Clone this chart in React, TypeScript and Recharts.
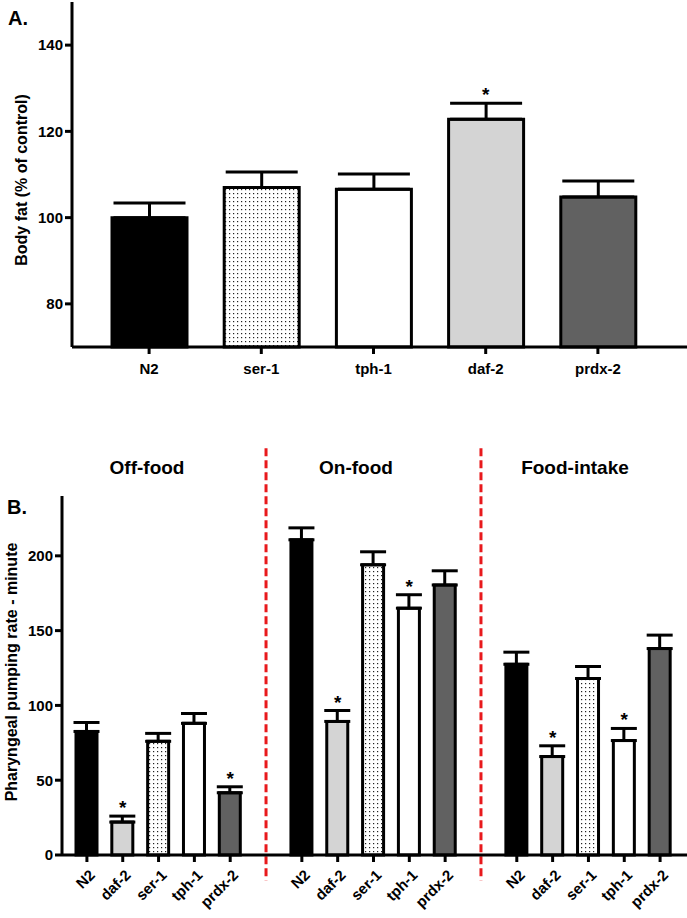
import {
  ComposedChart,
  Bar,
  Cell,
  ErrorBar,
  Scatter,
  XAxis,
  YAxis,
  ReferenceLine,
} from "recharts";

// panel A: body fat (% of control)
const strainsA = ["N2", "ser-1", "tph-1", "daf-2", "prdx-2"];
const bodyFat = [100, 107.0, 106.6, 122.8, 104.8];
const bodyFatErr = [3.4, 3.6, 3.5, 3.7, 3.7];
const sigA = [false, false, false, true, false];

// panel B: pharyngeal pumping rate per minute
const strainsB = ["N2", "daf-2", "ser-1", "tph-1", "prdx-2"];
const offFood = [82.6, 22, 76, 88, 41.6];
const offFoodErr = [6, 4, 5.3, 6.6, 4];
const offFoodSig = [false, true, false, false, true];
const onFood = [210.7, 89.3, 194, 165, 180.5];
const onFoodErr = [8, 7.3, 8.7, 9, 9.5];
const onFoodSig = [false, true, false, true, false];
const foodIntake = [127.5, 65.8, 118, 76.5, 138];
const foodIntakeErr = [8.1, 7.2, 8, 8.1, 9];
const foodIntakeSig = [false, true, false, true, false];

const FILLS: Record<string, string> = {
  N2: "#000000",
  "ser-1": "dots",
  "tph-1": "#ffffff",
  "daf-2": "#d4d4d4",
  "prdx-2": "#616161",
};
const fillOf = (name: string, pid: string) =>
  FILLS[name] === "dots" ? `url(#${pid})` : FILLS[name];

const dataA = strainsA.map((name, i) => ({
  name,
  value: bodyFat[i],
  err: [0, bodyFatErr[i]],
  star: sigA[i] ? bodyFat[i] + bodyFatErr[i] : null,
}));

const groupsB = [
  { key: "off", vals: offFood, errs: offFoodErr, sig: offFoodSig },
  { key: "on", vals: onFood, errs: onFoodErr, sig: onFoodSig },
  { key: "intake", vals: foodIntake, errs: foodIntakeErr, sig: foodIntakeSig },
];

const dataB: any[] = [];
groupsB.forEach((g, gi) => {
  if (gi > 0) dataB.push({ id: `gap${gi}`, name: "", value: null, err: null, star: null });
  strainsB.forEach((name, i) => {
    dataB.push({
      id: `${g.key}-${name}`,
      name,
      value: g.vals[i],
      err: [0, g.errs[i]],
      star: g.sig[i] ? g.vals[i] + g.errs[i] : null,
    });
  });
});
const tickIdsB = dataB.filter((d) => d.name !== "").map((d) => d.id);
const nameById: Record<string, string> = Object.fromEntries(
  dataB.map((d) => [d.id, d.name])
);

const axisStyle = { stroke: "#000", strokeWidth: 3 };
const tickFont = { fill: "#000", fontSize: 15, fontWeight: "bold" as const };
const RED = "#e8191c";

const Star = (props: any) => {
  const { cx, cy, payload } = props;
  if (payload == null || payload.star == null || !isFinite(cy)) return <g />;
  return (
    <text x={cx} y={cy - 2} textAnchor="middle" fontSize={19} fontWeight="bold" fill="#000">
      *
    </text>
  );
};

const RotTick = (props: any) => {
  const { x, y, payload } = props;
  return (
    <text
      x={x + 9}
      y={y + 14}
      transform={`rotate(-45 ${x + 9} ${y + 14})`}
      textAnchor="end"
      fontSize={15}
      fontWeight="bold"
      fill="#000"
    >
      {nameById[payload.value]}
    </text>
  );
};

function DotPattern({ id }: { id: string }) {
  return (
    <defs>
      <pattern id={id} width="4" height="4" patternUnits="userSpaceOnUse">
        <rect width="4" height="4" fill="#fff" />
        <rect x="1" y="1" width="1.2" height="1.2" fill="#222" />
      </pattern>
    </defs>
  );
}

function BodyFatChart() {
  return (
    <ComposedChart
      width={687}
      height={400}
      data={dataA}
      margin={{ top: 2, right: 0, left: 12, bottom: 23 }}
    >
      <DotPattern id="dotsA" />
      <XAxis
        dataKey="name"
        interval={0}
        padding={{ left: 21, right: 33 }}
        axisLine={axisStyle}
        tickLine={axisStyle}
        tickSize={7}
        tickMargin={9}
        tick={tickFont}
        height={30}
      />
      <YAxis
        domain={[70, 150]}
        ticks={[80, 100, 120, 140]}
        width={60}
        axisLine={axisStyle}
        tickLine={axisStyle}
        tickSize={7}
        tickMargin={2}
        tick={tickFont}
      />
      <Bar dataKey="value" barSize={75} stroke="#000" strokeWidth={3} isAnimationActive={false}>
        {dataA.map((d, i) => (
          <Cell key={i} fill={fillOf(d.name, "dotsA")} />
        ))}
        <ErrorBar dataKey="err" width={36} stroke="#000" strokeWidth={3} direction="y" />
      </Bar>
      <Scatter dataKey="star" shape={Star} isAnimationActive={false} legendType="none" />
    </ComposedChart>
  );
}

function PumpingChart() {
  return (
    <ComposedChart
      width={687}
      height={488}
      data={dataB}
      margin={{ top: 66, right: 0, left: 12, bottom: 13 }}
    >
      <DotPattern id="dotsB" />
      <XAxis
        dataKey="id"
        interval={0}
        ticks={tickIdsB}
        padding={{ left: 7, right: 9 }}
        axisLine={axisStyle}
        tickLine={axisStyle}
        tickSize={7}
        tickMargin={0}
        tick={<RotTick />}
        height={50}
      />
      <YAxis
        domain={[0, 240]}
        ticks={[0, 50, 100, 150, 200]}
        width={50}
        axisLine={axisStyle}
        tickLine={axisStyle}
        tickSize={7}
        tickMargin={2}
        tick={tickFont}
      />
      {["gap1", "gap2"].map((g) => (
        <ReferenceLine
          key={g}
          segment={[
            { x: g, y: 272 },
            { x: g, y: -17 },
          ]}
          ifOverflow="visible"
          stroke={RED}
          strokeWidth={3}
          strokeDasharray="8 4"
        />
      ))}
      <Bar dataKey="value" barSize={21} stroke="#000" strokeWidth={3} isAnimationActive={false}>
        {dataB.map((d, i) => (
          <Cell key={i} fill={d.name ? fillOf(d.name, "dotsB") : "none"} />
        ))}
        <ErrorBar dataKey="err" width={13} stroke="#000" strokeWidth={3} direction="y" />
      </Bar>
      <Scatter dataKey="star" shape={Star} isAnimationActive={false} legendType="none" />
    </ComposedChart>
  );
}

export default function App() {
  const bold = { fontWeight: "bold" as const, fill: "#000" };
  return (
    <div
      style={{
        position: "absolute",
        left: 0,
        top: 0,
        width: 687,
        height: 918,
        background: "#fff",
        fontFamily: "'Liberation Sans', Arial, sans-serif",
      }}
    >
      <div style={{ position: "absolute", left: 0, top: 0 }}>
        <BodyFatChart />
      </div>
      <div style={{ position: "absolute", left: 0, top: 430 }}>
        <PumpingChart />
      </div>
      <svg
        width={687}
        height={918}
        style={{ position: "absolute", left: 0, top: 0, pointerEvents: "none" }}
      >
        <text x={8} y={25} fontSize={20} {...bold}>A.</text>
        <text x={7} y={514} fontSize={20} {...bold}>B.</text>
        <text
          x={21}
          y={180}
          fontSize={16}
          textAnchor="middle"
          dominantBaseline="central"
          transform="rotate(-90 21 180)"
          {...bold}
        >
          Body fat (% of control)
        </text>
        <text
          x={11}
          y={672}
          fontSize={16}
          textAnchor="middle"
          dominantBaseline="central"
          transform="rotate(-90 11 672)"
          {...bold}
        >
          Pharyngeal pumping rate - minute
        </text>
        <text x={147} y={474} fontSize={19} textAnchor="middle" {...bold}>Off-food</text>
        <text x={356} y={474} fontSize={19} textAnchor="middle" {...bold}>On-food</text>
        <text x={575} y={474} fontSize={19} textAnchor="middle" {...bold}>Food-intake</text>
      </svg>
    </div>
  );
}
